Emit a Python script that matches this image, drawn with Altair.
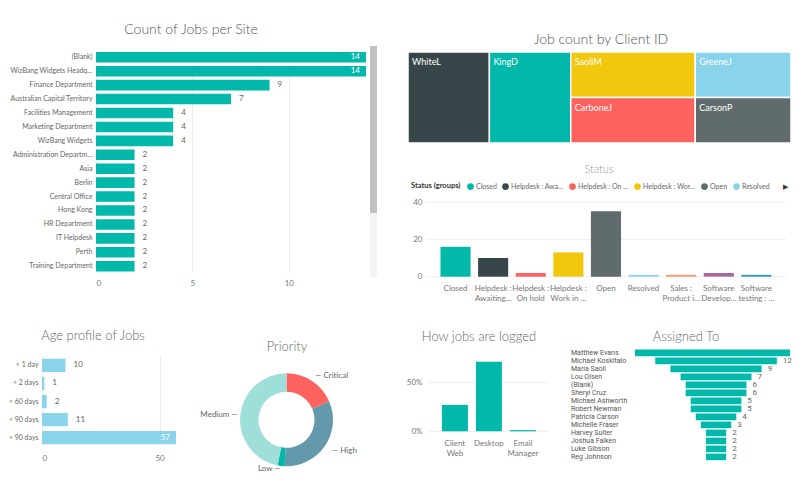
import altair as alt
import pandas as pd

FONT = "Lato"
TEAL = "#01B8AA"

# ---------------- data ----------------
panel_titles = ["Count of Jobs per Site", "Job count by Client ID", "Status",
                "Age profile of Jobs", "Priority", "How jobs are logged", "Assigned To"]

site_names = ["(Blank)", "WizBang Widgets Headquarters", "Finance Department",
              "Australian Capital Territory", "Facilities Management", "Marketing Department",
              "WizBang Widgets", "Administration Department", "Asia", "Berlin", "Central Office",
              "Hong Kong", "HR Department", "IT Helpdesk", "Perth", "Training Department"]
site_counts = [14, 14, 9, 7, 4, 4, 4, 2, 2, 2, 2, 2, 2, 2, 2, 2]
site_ticks = [0, 5, 10]

client_ids = ["WhiteL", "KingD", "SaoliM", "CarboneJ", "GreeneJ", "CarsonP"]
client_counts = [17, 17, 13, 13, 10, 10]
client_colors = ["#374649", "#01B8AA", "#F2C80F", "#FD625E", "#8AD4EB", "#5F6B6D"]
treemap_columns = [["WhiteL"], ["KingD"], ["SaoliM", "CarboneJ"], ["GreeneJ", "CarsonP"]]

status_names = ["Closed", "Helpdesk : Awaiting customer", "Helpdesk : On hold",
                "Helpdesk : Work in progress", "Open", "Resolved", "Sales : Product inquiry",
                "Software Development : In progress", "Software testing : In progress"]
status_axis_labels = ["Closed", "Helpdesk :|Awaiting...", "Helpdesk :|On hold", "Helpdesk :|Work in ...",
                      "Open", "Resolved", "Sales :|Product i...", "Software|Develop...",
                      "Software|testing : ..."]
status_counts = [16, 10, 2, 13, 35, 1, 1, 2, 1]
status_colors = ["#01B8AA", "#374649", "#FD625E", "#F2C80F", "#5F6B6D",
                 "#8AD4EB", "#FE9666", "#A66999", "#3599B8"]
status_ticks = [0, 20, 40]

age_bins = ["< 1 day", "< 2 days", "< 60 days", "< 90 days", "> 90 days"]
age_counts = [10, 1, 2, 11, 57]
age_ticks = [0, 50]

priority_levels = ["Critical", "High", "Low", "Medium"]
priority_counts = [15, 26, 2, 38]
priority_colors = ["#FD625E", "#6399AA", "#01B8AA", "#9EE0D9"]

log_methods = ["Client Web", "Desktop", "Email Manager"]
log_counts = [22, 58, 1]
log_ticks = [0, 0.5]

assignees = ["Matthew Evans", "Michael Koskitalo", "Maria Saoli", "Lou Olsen", "(Blank)",
             "Sheryl Cruz", "Michael Ashworth", "Robert Newman", "Patricia Carson",
             "Michelle Fraser", "Harvey Suiter", "Joshua Falken", "Luke Gibson", "Reg Johnson"]
assigned_counts = [16, 12, 9, 7, 6, 6, 5, 5, 4, 3, 2, 2, 2, 2]

# ---------------- helpers ----------------
one = pd.DataFrame({"k": [0]})


def title_mark(text, x, y, size=13, color="#666", weight=300):
    return alt.Chart(pd.DataFrame({"t": [text]})).mark_text(
        fontSize=size, color=color, font=FONT, fontWeight=weight
    ).encode(text="t:N", x=alt.value(x), y=alt.value(y))


# ---------------- Panel A: Count of Jobs per Site ----------------
A_W, A_H = 324, 219.5
site_df = pd.DataFrame({"site": site_names, "count": site_counts})
xA = alt.Scale(domain=[0, max(site_counts)], range=[54, A_W], nice=False)
yA = alt.Scale(domain=site_names, paddingInner=0.24, paddingOuter=0)
yA_axis = alt.Axis(title=None, offset=-54, labelPadding=4, labelLimit=83,
                   labelFontSize=7, labelColor="#666")
xA_axis = alt.Axis(title=None, values=site_ticks, grid=True, labelPadding=8)
a_base = alt.Chart(site_df).encode(
    y=alt.Y("site:N", scale=yA, axis=yA_axis),
    x=alt.X("count:Q", scale=xA, axis=xA_axis),
)
a_bars = a_base.mark_bar(color=TEAL)
a_out = a_base.transform_joinaggregate(mx="max(count)").transform_filter(
    "datum.count < datum.mx").mark_text(align="left", dx=8, fontSize=8, color="#666").encode(text="count:Q")
a_in = a_base.transform_joinaggregate(mx="max(count)").transform_filter(
    "datum.count == datum.mx").mark_text(align="right", dx=-6, fontSize=8, color="white").encode(text="count:Q")
anchor = alt.Chart(one).mark_rect(opacity=0).encode(
    x=alt.value(-33), x2=alt.value(-32), y=alt.value(-44), y2=alt.value(-43))
a_track = alt.Chart(one).mark_rect(color="#F3F3F3").encode(
    x=alt.value(328), x2=alt.value(335), y=alt.value(-6), y2=alt.value(225))
a_thumb = alt.Chart(one).mark_rect(color="#C0C0C0").encode(
    x=alt.value(328), x2=alt.value(335), y=alt.value(-6), y2=alt.value(161))
A = alt.layer(anchor, a_track, a_thumb, a_bars, a_out, a_in,
              title_mark(panel_titles[0], 149, -22, 14, "#555")).properties(width=A_W, height=A_H)

# ---------------- Panel TR: treemap + status ----------------
TR_W, TR_H = 383, 224.7
cnt = dict(zip(client_ids, client_counts))
tm_total = sum(client_counts)
tm_rows = []
x_acc = 0
for col in treemap_columns:
    col_sum = sum(cnt[c] for c in col)
    y_acc = 0.0
    for c in col:
        h = cnt[c] / col_sum
        tm_rows.append({"client": c, "count": cnt[c], "x0": x_acc, "x1": x_acc + col_sum,
                        "y0": y_acc, "y1": y_acc + h})
        y_acc += h
    x_acc += col_sum
tm_df = pd.DataFrame(tm_rows)
tm_x = alt.Scale(domain=[0, tm_total], range=[0, TR_W], nice=False)
tm_y = alt.Scale(domain=[0, 1], range=[0, 91], nice=False)
tm_rect = alt.Chart(tm_df).mark_rect(stroke="white", strokeWidth=1.5).encode(
    x=alt.X("x0:Q", scale=tm_x, axis=None), x2="x1:Q",
    y=alt.Y("y0:Q", scale=tm_y, axis=None), y2="y1:Q",
    color=alt.Color("client:N", scale=alt.Scale(domain=client_ids, range=client_colors), legend=None),
)
tm_text = alt.Chart(tm_df).mark_text(align="left", baseline="top", dx=4, dy=6, fontSize=9,
                                     color="white").encode(
    x=alt.X("x0:Q", scale=tm_x, axis=None), y=alt.Y("y0:Q", scale=tm_y, axis=None), text="client:N")
treemap = alt.layer(tm_rect, tm_text)

st_df = pd.DataFrame({"status": status_names, "label": status_axis_labels, "count": status_counts})
st_x = alt.Scale(domain=status_axis_labels, range=[32.5, 363.4], paddingInner=0.2, paddingOuter=0)
st_y = alt.Scale(domain=[0, 40], range=[TR_H, 150], nice=False)
st_xaxis = alt.Axis(orient="bottom", title=None, labelExpr="split(datum.label, '|')", labelAngle=0,
                    labelPadding=8, labelLineHeight=10)
st_yaxis = alt.Axis(orient="left", title=None, values=status_ticks, offset=-18, labelPadding=4, grid=False)
st_grid = alt.Chart(pd.DataFrame({"v": status_ticks})).mark_rule(color="#EEEEEE").encode(
    y=alt.Y("v:Q", scale=st_y, axis=st_yaxis), x=alt.value(18), x2=alt.value(378))
st_bars = alt.Chart(st_df).mark_bar().encode(
    x=alt.X("label:N", scale=st_x, axis=st_xaxis, sort=None),
    y=alt.Y("count:Q", scale=st_y, axis=st_yaxis),
    color=alt.Color("status:N", scale=alt.Scale(domain=status_names, range=status_colors),
                    legend=alt.Legend(orient="none", legendX=3, legendY=131, direction="horizontal",
                                      title="Status (groups)", titleOrient="left", titleFontWeight="bold",
                                      titleFontSize=7.5, titleColor="#333", titleFont=FONT, titlePadding=6,
                                      labelFontSize=7, labelColor="#666", labelFont=FONT,
                                      symbolType="circle", symbolSize=45, symbolStrokeWidth=0,
                                      columnPadding=5, labelOffset=2, values=status_names[:6],
                                      labelExpr="length(datum.label) > 14 ? slice(datum.label, 0, 14) + '...' : datum.label")),
)
status_layer = alt.layer(st_grid, st_bars)
TR = alt.layer(
    treemap, status_layer,
    title_mark(panel_titles[1], 193, -12, 14, "#555"),
    title_mark(panel_titles[2], 191, 118, 11, "#999"),
    title_mark("\u25B6", 377, 135, 7, "#333", "normal"),
).resolve_scale(x="independent", y="independent", color="independent").properties(width=TR_W, height=TR_H)

# ---------------- Panel AP: age profile + priority ----------------
AP_W, AP_H = 291, 101
age_df = pd.DataFrame({"age": age_bins, "count": age_counts})
ag_x = alt.Scale(domain=[0, max(age_counts)], range=[0, 134], nice=False)
ag_y = alt.Scale(domain=age_bins, range=[9.5, 95], paddingInner=0.27, paddingOuter=0)
ag_base = alt.Chart(age_df).encode(
    x=alt.X("count:Q", scale=ag_x, axis=alt.Axis(orient="bottom", title=None, values=age_ticks, grid=True,
                                                 labelPadding=4)),
    y=alt.Y("age:N", scale=ag_y, axis=alt.Axis(orient="left", title=None, labelPadding=4,
                                               labelFontSize=7, labelColor="#666")),
)
ag_bars = ag_base.mark_bar(color="#8AD4EB")
ag_out = ag_base.transform_joinaggregate(mx="max(count)").transform_filter(
    "datum.count < datum.mx").mark_text(align="left", dx=8, fontSize=8, color="#666").encode(text="count:Q")
ag_in = ag_base.transform_joinaggregate(mx="max(count)").transform_filter(
    "datum.count == datum.mx").mark_text(align="right", dx=-6, fontSize=8, color="white").encode(text="count:Q")
age_layer = alt.layer(ag_bars, ag_out, ag_in)

pr_df = pd.DataFrame({"priority": priority_levels, "count": priority_counts})
pr_base = alt.Chart(pr_df).encode(
    theta=alt.Theta("count:Q", stack=True),
    order=alt.Order("priority:N", sort="ascending"),
    x=alt.value(244.5), y=alt.value(70.5),
)
pr_arc = pr_base.mark_arc(outerRadius=46.5, innerRadius=28).encode(
    color=alt.Color("priority:N", scale=alt.Scale(domain=priority_levels, range=priority_colors), legend=None))
label_style = {"Critical": ("\u2014  Critical", 52, "left"),
               "High": ("\u2014  High", 55, "left"),
               "Low": ("Low  \u2014", 50, "right"),
               "Medium": ("Medium  \u2014", 49, "right")}
pr_labels = []
for lvl in priority_levels:
    txt, rad, al = label_style[lvl]
    pr_labels.append(
        pr_base.transform_calculate(lab=f"datum.priority == '{lvl}' ? '{txt}' : ''")
        .mark_text(radius=rad, align=al, fontSize=8, color="#666", font=FONT)
        .encode(text="lab:N")
    )
pr_layer = alt.layer(pr_arc, *pr_labels)
AP = alt.layer(
    age_layer, pr_layer,
    title_mark(panel_titles[3], 51, -13, 13, "#666"),
    title_mark(panel_titles[4], 245, -2, 13, "#666"),
).resolve_scale(x="independent", y="independent", color="independent").properties(width=AP_W, height=AP_H)

# ---------------- Panel LA: logged + assigned ----------------
LA_W, LA_H = 382, 82
lg_df = pd.DataFrame({"method": log_methods, "count": log_counts})
lg_x = alt.Scale(domain=log_methods, range=[33.9, 127.9], paddingInner=0.235, paddingOuter=0)
lg_y = alt.Scale(domain=[0, 0.843], nice=False)
lg_yaxis = alt.Axis(orient="left", title=None, values=log_ticks, format="%", offset=-21, labelPadding=7,
                    grid=False)
lg_grid = alt.Chart(pd.DataFrame({"v": log_ticks})).mark_rule(color="#EEEEEE").encode(
    y=alt.Y("v:Q", scale=lg_y, axis=lg_yaxis), x=alt.value(21), x2=alt.value(141))
lg_bars = alt.Chart(lg_df).transform_joinaggregate(total="sum(count)").transform_calculate(
    pct="datum.count / datum.total").mark_bar(color=TEAL).encode(
    x=alt.X("method:N", scale=lg_x, sort=None,
            axis=alt.Axis(orient="bottom", title=None, labelExpr="split(datum.label, ' ')", labelAngle=0,
                          labelPadding=8, labelLineHeight=10)),
    y=alt.Y("pct:Q", scale=lg_y, axis=lg_yaxis),
)
lg_layer = alt.layer(lg_grid, lg_bars)

as_df = pd.DataFrame({"name": assignees, "count": assigned_counts})
as_x = alt.Scale(domain=[-max(assigned_counts) / 2, 7.3], range=[227, LA_W], nice=False, zero=False, clamp=True)
as_y = alt.Scale(domain=assignees, range=[0.3, 110.9], paddingInner=0.17, paddingOuter=0)
as_base = alt.Chart(as_df).transform_calculate(lo="-datum.count / 2", hi="datum.count / 2").encode(
    y=alt.Y("name:N", scale=as_y, axis=None))
as_bars = as_base.mark_bar(color=TEAL).encode(x=alt.X("lo:Q", scale=as_x, axis=None), x2="hi:Q")
as_vals = as_base.transform_joinaggregate(mx="max(count)").transform_filter(
    "datum.count < datum.mx").mark_text(align="left", dx=6, fontSize=8, color="#666", font="Roboto").encode(
    x=alt.X("hi:Q", scale=as_x, axis=None), text="count:Q")
as_names = as_base.mark_text(align="left", fontSize=7, color="#555", font="Roboto").encode(
    x=alt.value(163), text="name:N")
as_layer = alt.layer(as_bars, as_vals, as_names)
LA = alt.layer(
    lg_layer, as_layer,
    title_mark(panel_titles[5], 71, -12, 13, "#666"),
    title_mark(panel_titles[6], 278, -12, 13, "#666"),
).resolve_scale(x="independent", y="independent").properties(width=LA_W, height=LA_H)

# ---------------- dashboard ----------------
chart = alt.concat(
    A, TR, AP, LA, columns=2, spacing={"row": 72.3, "column": 42}, bounds="flush", align="each"
).properties(padding=0, background="white").configure_view(stroke=None).configure_axis(
    labelFont=FONT, labelFontSize=8, labelColor="#777", domain=False, ticks=False, gridColor="#EEEEEE",
    minExtent=0
).configure_text(font=FONT)

chart.save("out.html", embed_options={"renderer": "svg", "actions": False})
